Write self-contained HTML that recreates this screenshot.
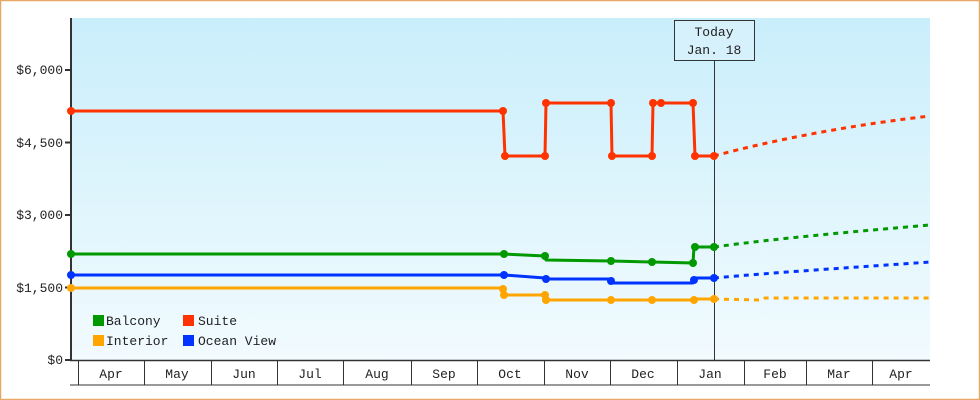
<!DOCTYPE html>
<html><head><meta charset="utf-8"><style>
html,body{margin:0;padding:0;background:#fff}
svg{display:block}
text{font-family:"Liberation Mono","DejaVu Sans Mono",monospace;font-size:13px;fill:#222}
</style></head><body>
<svg width="980" height="400" viewBox="0 0 980 400" xmlns="http://www.w3.org/2000/svg">
<defs><linearGradient id="bg" x1="0" y1="0" x2="0" y2="1"><stop offset="0" stop-color="#c9eefb"/><stop offset="1" stop-color="#f2fbfe"/></linearGradient></defs>
<rect x="0.5" y="0.5" width="979" height="399" fill="#fff" stroke="#e8a865" stroke-width="1.5"/>
<rect x="71" y="18" width="859" height="342" fill="url(#bg)"/>
<line x1="71" y1="18" x2="71" y2="361" stroke="#333" stroke-width="2"/>
<g stroke="#333" stroke-width="2">
<line x1="65" y1="360" x2="71" y2="360"/><line x1="65" y1="287.5" x2="71" y2="287.5"/><line x1="65" y1="215" x2="71" y2="215"/><line x1="65" y1="142.5" x2="71" y2="142.5"/><line x1="65" y1="70" x2="71" y2="70"/>
</g>
<g text-anchor="end">
<text x="63" y="364">$0</text><text x="63" y="292">$1,500</text><text x="63" y="219">$3,000</text><text x="63" y="147">$4,500</text><text x="63" y="74">$6,000</text>
</g>
<line x1="70" y1="360.5" x2="930" y2="360.5" stroke="#333" stroke-width="1.5"/>
<line x1="70" y1="385" x2="930" y2="385" stroke="#333" stroke-width="1"/>
<g stroke="#333" stroke-width="1">
<line x1="78.5" y1="360" x2="78.5" y2="385"/><line x1="144.5" y1="360" x2="144.5" y2="385"/><line x1="211.5" y1="360" x2="211.5" y2="385"/><line x1="277.5" y1="360" x2="277.5" y2="385"/><line x1="343.5" y1="360" x2="343.5" y2="385"/><line x1="411.5" y1="360" x2="411.5" y2="385"/><line x1="477.5" y1="360" x2="477.5" y2="385"/><line x1="544.5" y1="360" x2="544.5" y2="385"/><line x1="610.5" y1="360" x2="610.5" y2="385"/><line x1="677.5" y1="360" x2="677.5" y2="385"/><line x1="744.5" y1="360" x2="744.5" y2="385"/><line x1="806.5" y1="360" x2="806.5" y2="385"/><line x1="872.5" y1="360" x2="872.5" y2="385"/>
</g>
<g text-anchor="middle">
<text x="111" y="378">Apr</text><text x="177" y="378">May</text><text x="244" y="378">Jun</text><text x="310" y="378">Jul</text><text x="377" y="378">Aug</text><text x="444" y="378">Sep</text><text x="510" y="378">Oct</text><text x="577" y="378">Nov</text><text x="643" y="378">Dec</text><text x="710" y="378">Jan</text><text x="775" y="378">Feb</text><text x="839" y="378">Mar</text><text x="901" y="378">Apr</text>
</g>
<line x1="714.5" y1="60" x2="714.5" y2="360" stroke="#333" stroke-width="1"/>
<rect x="674.5" y="20.5" width="80" height="40" fill="#d6f1fb" stroke="#333"/>
<text x="714" y="36" text-anchor="middle">Today</text><text x="714" y="54" text-anchor="middle">Jan. 18</text>
<g fill="none" stroke-width="3" stroke-linejoin="round">
<polyline stroke="#ff3300" points="71,111 503,111 505,156 545,156 546,103 611,103 612,156 652,156 653,103 693,103 695,156 714,156"/>
<polyline stroke="#009900" points="71,254 504,254 545,256 546,260 611,261 652,262 693,263 694,247 714,247"/>
<polyline stroke="#0033ff" points="71,275 504,275 545,278 546,279 611,279 612,283 693,283 694,278 714,278"/>
<polyline stroke="#ffa500" points="71,288 503,288 504,295 545,295 546,300 693,300 695,299 714,299"/>
<g stroke-dasharray="5,5">
<path stroke="#ff3300" d="M714,156 C780,138 860,124 930,116"/>
<path stroke="#009900" d="M714,247 C780,238 860,231 930,225"/>
<path stroke="#0033ff" d="M714,278 C780,272 860,267 930,262"/>
<polyline stroke="#ffa500" points="714,299 760,300 765,298 870,298 930,298"/>
</g>
</g>
<g>
<g fill="#ff3300"><circle cx="71" cy="111" r="4"/><circle cx="503" cy="111" r="4"/><circle cx="505" cy="156" r="4"/><circle cx="545" cy="156" r="4"/><circle cx="546" cy="103" r="4"/><circle cx="611" cy="103" r="4"/><circle cx="612" cy="156" r="4"/><circle cx="652" cy="156" r="4"/><circle cx="653" cy="103" r="4"/><circle cx="661" cy="103" r="4"/><circle cx="693" cy="103" r="4"/><circle cx="695" cy="156" r="4"/><circle cx="714" cy="156" r="4"/></g>
<g fill="#009900"><circle cx="71" cy="254" r="4"/><circle cx="504" cy="254" r="4"/><circle cx="545" cy="256" r="4"/><circle cx="611" cy="261" r="4"/><circle cx="652" cy="262" r="4"/><circle cx="693" cy="263" r="4"/><circle cx="695" cy="247" r="4"/><circle cx="714" cy="247" r="4"/></g>
<g fill="#0033ff"><circle cx="71" cy="275" r="4"/><circle cx="504" cy="275" r="4"/><circle cx="546" cy="279" r="4"/><circle cx="611" cy="281" r="4"/><circle cx="694" cy="280" r="4"/><circle cx="714" cy="278" r="4"/></g>
<g fill="#ffa500"><circle cx="71" cy="288" r="4"/><circle cx="503" cy="289" r="4"/><circle cx="504" cy="295" r="4"/><circle cx="545" cy="295" r="4"/><circle cx="546" cy="300" r="4"/><circle cx="611" cy="300" r="4"/><circle cx="652" cy="300" r="4"/><circle cx="694" cy="300" r="4"/><circle cx="714" cy="299" r="4"/></g>
</g>
<rect x="93" y="315" width="11" height="11" fill="#009900"/><text x="106" y="325">Balcony</text>
<rect x="183" y="315" width="11" height="11" fill="#ff3300"/><text x="198" y="325">Suite</text>
<rect x="93" y="335" width="11" height="11" fill="#ffa500"/><text x="106" y="345">Interior</text>
<rect x="183" y="335" width="11" height="11" fill="#0033ff"/><text x="198" y="345">Ocean View</text>
</svg>
</body></html>
